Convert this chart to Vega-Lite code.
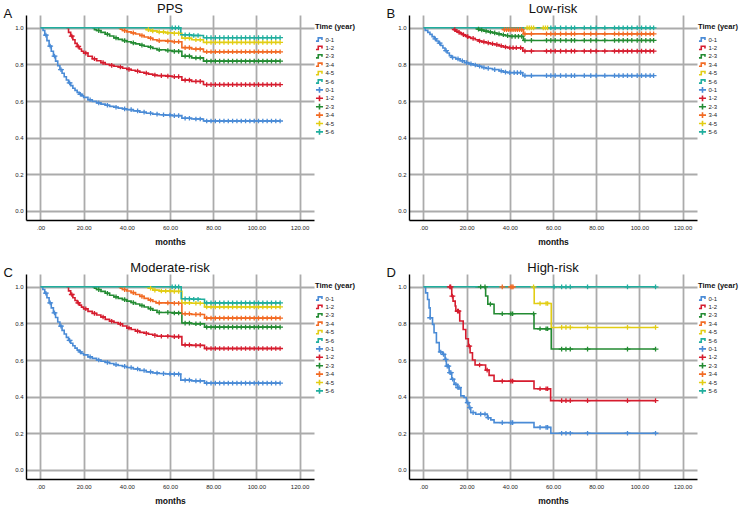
{
  "$schema": "https://vega.github.io/schema/vega-lite/v6.json",
  "padding": {"left": 3, "top": 2, "right": 0, "bottom": 0},
  "config": {
    "font": "Liberation Sans",
    "view": {"stroke": null},
    "axis": {"gridColor": "#ababab", "gridWidth": 1.8, "gridOpacity": 1, "domainColor": "#000000", "domainWidth": 1.4, "ticks": false, "labelFontSize": 6, "labelColor": "#222222"},
    "axisX": {"labelPadding": 4, "titleFontSize": 8.5, "titleFontWeight": "bold", "titleColor": "#111111", "titlePadding": 7},
    "axisY": {"labelPadding": 3},
    "title": {"fontSize": 13, "fontWeight": "normal", "color": "#111111", "anchor": "middle", "frame": "group", "baseline": "alphabetic", "offset": 1, "dy": 9},
    "legend": {"titleFontSize": 7.5, "titleFontWeight": "bold", "titleColor": "#111111", "labelFontSize": 6, "labelColor": "#222222", "symbolSize": 50, "symbolStrokeWidth": 1.3, "padding": 8, "offset": -7, "rowPadding": 0.4, "clipHeight": 8, "labelOffset": 1.5, "titlePadding": 5},
    "line": {"strokeWidth": 1.6, "interpolate": "step-after"},
    "point": {"filled": false, "opacity": 1, "size": 34, "strokeWidth": 1.3}
  },
  "datasets": {
    "pps": [
      {"k":"L 0-1","t":0,"s":1},{"k":"L 0-1","t":1.2,"s":0.985},{"k":"L 0-1","t":2,"s":0.96},{"k":"L 0-1","t":3,"s":0.93},{"k":"L 0-1","t":4,"s":0.9},{"k":"L 0-1","t":5,"s":0.872},{"k":"L 0-1","t":6,"s":0.845},{"k":"L 0-1","t":7,"s":0.818},{"k":"L 0-1","t":8,"s":0.793},{"k":"L 0-1","t":9,"s":0.772},{"k":"L 0-1","t":10,"s":0.752},{"k":"L 0-1","t":11,"s":0.733},{"k":"L 0-1","t":12,"s":0.715},{"k":"L 0-1","t":13,"s":0.699},{"k":"L 0-1","t":14,"s":0.684},{"k":"L 0-1","t":15,"s":0.67},{"k":"L 0-1","t":16,"s":0.658},{"k":"L 0-1","t":17,"s":0.647},{"k":"L 0-1","t":18,"s":0.637},{"k":"L 0-1","t":19,"s":0.628},{"k":"L 0-1","t":20,"s":0.62},{"k":"L 0-1","t":22,"s":0.607},{"k":"L 0-1","t":24,"s":0.598},{"k":"L 0-1","t":26,"s":0.59},{"k":"L 0-1","t":28,"s":0.583},{"k":"L 0-1","t":30,"s":0.577},{"k":"L 0-1","t":32,"s":0.571},{"k":"L 0-1","t":34,"s":0.566},{"k":"L 0-1","t":36,"s":0.561},{"k":"L 0-1","t":38,"s":0.557},{"k":"L 0-1","t":40,"s":0.553},{"k":"L 0-1","t":43,"s":0.546},{"k":"L 0-1","t":46,"s":0.539},{"k":"L 0-1","t":49,"s":0.533},{"k":"L 0-1","t":52,"s":0.528},{"k":"L 0-1","t":55,"s":0.525},{"k":"L 0-1","t":58,"s":0.523},{"k":"L 0-1","t":61,"s":0.52},{"k":"L 0-1","t":65.5,"s":0.506},{"k":"L 0-1","t":70,"s":0.502},{"k":"L 0-1","t":75.5,"s":0.491},{"k":"L 0-1","t":111,"s":0.491},
      {"k":"L 1-2","t":12,"s":1},{"k":"L 1-2","t":13,"s":0.975},{"k":"L 1-2","t":14,"s":0.955},{"k":"L 1-2","t":15,"s":0.935},{"k":"L 1-2","t":16,"s":0.915},{"k":"L 1-2","t":17,"s":0.898},{"k":"L 1-2","t":18,"s":0.884},{"k":"L 1-2","t":19,"s":0.872},{"k":"L 1-2","t":20,"s":0.862},{"k":"L 1-2","t":22,"s":0.845},{"k":"L 1-2","t":24,"s":0.831},{"k":"L 1-2","t":26,"s":0.82},{"k":"L 1-2","t":28,"s":0.81},{"k":"L 1-2","t":30,"s":0.801},{"k":"L 1-2","t":32,"s":0.795},{"k":"L 1-2","t":34,"s":0.79},{"k":"L 1-2","t":36,"s":0.786},{"k":"L 1-2","t":38,"s":0.779},{"k":"L 1-2","t":40,"s":0.773},{"k":"L 1-2","t":42,"s":0.768},{"k":"L 1-2","t":44,"s":0.763},{"k":"L 1-2","t":46,"s":0.757},{"k":"L 1-2","t":48,"s":0.752},{"k":"L 1-2","t":50,"s":0.747},{"k":"L 1-2","t":52,"s":0.742},{"k":"L 1-2","t":54,"s":0.739},{"k":"L 1-2","t":58,"s":0.736},{"k":"L 1-2","t":61,"s":0.733},{"k":"L 1-2","t":65.5,"s":0.714},{"k":"L 1-2","t":70,"s":0.707},{"k":"L 1-2","t":75.5,"s":0.69},{"k":"L 1-2","t":111,"s":0.69},
      {"k":"L 2-3","t":24,"s":1},{"k":"L 2-3","t":25,"s":0.99},{"k":"L 2-3","t":26,"s":0.985},{"k":"L 2-3","t":28,"s":0.975},{"k":"L 2-3","t":30,"s":0.965},{"k":"L 2-3","t":32,"s":0.955},{"k":"L 2-3","t":34,"s":0.945},{"k":"L 2-3","t":36,"s":0.937},{"k":"L 2-3","t":38,"s":0.93},{"k":"L 2-3","t":40,"s":0.924},{"k":"L 2-3","t":42,"s":0.918},{"k":"L 2-3","t":44,"s":0.912},{"k":"L 2-3","t":46,"s":0.905},{"k":"L 2-3","t":48,"s":0.899},{"k":"L 2-3","t":50,"s":0.894},{"k":"L 2-3","t":52,"s":0.887},{"k":"L 2-3","t":54,"s":0.88},{"k":"L 2-3","t":58,"s":0.876},{"k":"L 2-3","t":61,"s":0.871},{"k":"L 2-3","t":65.5,"s":0.845},{"k":"L 2-3","t":70,"s":0.836},{"k":"L 2-3","t":75.5,"s":0.818},{"k":"L 2-3","t":111,"s":0.818},
      {"k":"L 3-4","t":36,"s":1},{"k":"L 3-4","t":37,"s":0.993},{"k":"L 3-4","t":38,"s":0.985},{"k":"L 3-4","t":40,"s":0.978},{"k":"L 3-4","t":42,"s":0.972},{"k":"L 3-4","t":44,"s":0.966},{"k":"L 3-4","t":46,"s":0.958},{"k":"L 3-4","t":48,"s":0.95},{"k":"L 3-4","t":50,"s":0.943},{"k":"L 3-4","t":52,"s":0.935},{"k":"L 3-4","t":54,"s":0.93},{"k":"L 3-4","t":58,"s":0.927},{"k":"L 3-4","t":61,"s":0.924},{"k":"L 3-4","t":65.5,"s":0.892},{"k":"L 3-4","t":70,"s":0.884},{"k":"L 3-4","t":75.5,"s":0.869},{"k":"L 3-4","t":111,"s":0.869},
      {"k":"L 4-5","t":48,"s":1},{"k":"L 4-5","t":49,"s":0.99},{"k":"L 4-5","t":51,"s":0.983},{"k":"L 4-5","t":54,"s":0.977},{"k":"L 4-5","t":58,"s":0.973},{"k":"L 4-5","t":61,"s":0.97},{"k":"L 4-5","t":65.5,"s":0.943},{"k":"L 4-5","t":70,"s":0.935},{"k":"L 4-5","t":75.5,"s":0.92},{"k":"L 4-5","t":111,"s":0.92},
      {"k":"L 5-6","t":0,"s":1},{"k":"L 5-6","t":65,"s":0.962},{"k":"L 5-6","t":70,"s":0.958},{"k":"L 5-6","t":75.5,"s":0.946},{"k":"L 5-6","t":111,"s":0.946},
      {"k":"C 0-1","t":2.5,"s":0.96},{"k":"C 0-1","t":4.5,"s":0.9},{"k":"C 0-1","t":6.5,"s":0.845},{"k":"C 0-1","t":9.5,"s":0.772},{"k":"C 0-1","t":13.5,"s":0.699},{"k":"C 0-1","t":18.5,"s":0.637},{"k":"C 0-1","t":23,"s":0.607},{"k":"C 0-1","t":27,"s":0.59},{"k":"C 0-1","t":31,"s":0.577},{"k":"C 0-1","t":35,"s":0.566},{"k":"C 0-1","t":39,"s":0.557},{"k":"C 0-1","t":42,"s":0.553},{"k":"C 0-1","t":45,"s":0.546},{"k":"C 0-1","t":48,"s":0.539},{"k":"C 0-1","t":51,"s":0.533},{"k":"C 0-1","t":54,"s":0.528},{"k":"C 0-1","t":57,"s":0.525},{"k":"C 0-1","t":60,"s":0.523},{"k":"C 0-1","t":62,"s":0.52},{"k":"C 0-1","t":64,"s":0.52},{"k":"C 0-1","t":67,"s":0.506},{"k":"C 0-1","t":69,"s":0.506},{"k":"C 0-1","t":72,"s":0.502},{"k":"C 0-1","t":74,"s":0.502},{"k":"C 0-1","t":77,"s":0.491},{"k":"C 0-1","t":79,"s":0.491},{"k":"C 0-1","t":81,"s":0.491},{"k":"C 0-1","t":83,"s":0.491},{"k":"C 0-1","t":85,"s":0.491},{"k":"C 0-1","t":87,"s":0.491},{"k":"C 0-1","t":89,"s":0.491},{"k":"C 0-1","t":91,"s":0.491},{"k":"C 0-1","t":93,"s":0.491},{"k":"C 0-1","t":95,"s":0.491},{"k":"C 0-1","t":97,"s":0.491},{"k":"C 0-1","t":99,"s":0.491},{"k":"C 0-1","t":101,"s":0.491},{"k":"C 0-1","t":103,"s":0.491},{"k":"C 0-1","t":105,"s":0.491},{"k":"C 0-1","t":107,"s":0.491},{"k":"C 0-1","t":109,"s":0.491},{"k":"C 0-1","t":111,"s":0.491},
      {"k":"C 1-2","t":14.5,"s":0.955},{"k":"C 1-2","t":17.5,"s":0.898},{"k":"C 1-2","t":21,"s":0.862},{"k":"C 1-2","t":25,"s":0.831},{"k":"C 1-2","t":29,"s":0.81},{"k":"C 1-2","t":33,"s":0.795},{"k":"C 1-2","t":37,"s":0.786},{"k":"C 1-2","t":41,"s":0.773},{"k":"C 1-2","t":45,"s":0.763},{"k":"C 1-2","t":49,"s":0.752},{"k":"C 1-2","t":53,"s":0.742},{"k":"C 1-2","t":56,"s":0.739},{"k":"C 1-2","t":59,"s":0.736},{"k":"C 1-2","t":62,"s":0.733},{"k":"C 1-2","t":64,"s":0.733},{"k":"C 1-2","t":67,"s":0.714},{"k":"C 1-2","t":69,"s":0.714},{"k":"C 1-2","t":72,"s":0.707},{"k":"C 1-2","t":74,"s":0.707},{"k":"C 1-2","t":77,"s":0.69},{"k":"C 1-2","t":79,"s":0.69},{"k":"C 1-2","t":81,"s":0.69},{"k":"C 1-2","t":83,"s":0.69},{"k":"C 1-2","t":85,"s":0.69},{"k":"C 1-2","t":87,"s":0.69},{"k":"C 1-2","t":89,"s":0.69},{"k":"C 1-2","t":91,"s":0.69},{"k":"C 1-2","t":93,"s":0.69},{"k":"C 1-2","t":95,"s":0.69},{"k":"C 1-2","t":97,"s":0.69},{"k":"C 1-2","t":99,"s":0.69},{"k":"C 1-2","t":101,"s":0.69},{"k":"C 1-2","t":103,"s":0.69},{"k":"C 1-2","t":105,"s":0.69},{"k":"C 1-2","t":107,"s":0.69},{"k":"C 1-2","t":109,"s":0.69},{"k":"C 1-2","t":111,"s":0.69},
      {"k":"C 2-3","t":27,"s":0.985},{"k":"C 2-3","t":31,"s":0.965},{"k":"C 2-3","t":35,"s":0.945},{"k":"C 2-3","t":39,"s":0.93},{"k":"C 2-3","t":43,"s":0.918},{"k":"C 2-3","t":47,"s":0.905},{"k":"C 2-3","t":51,"s":0.894},{"k":"C 2-3","t":55,"s":0.88},{"k":"C 2-3","t":59,"s":0.876},{"k":"C 2-3","t":62,"s":0.871},{"k":"C 2-3","t":64,"s":0.871},{"k":"C 2-3","t":67,"s":0.845},{"k":"C 2-3","t":69,"s":0.845},{"k":"C 2-3","t":72,"s":0.836},{"k":"C 2-3","t":74,"s":0.836},{"k":"C 2-3","t":77,"s":0.818},{"k":"C 2-3","t":79,"s":0.818},{"k":"C 2-3","t":81,"s":0.818},{"k":"C 2-3","t":83,"s":0.818},{"k":"C 2-3","t":85,"s":0.818},{"k":"C 2-3","t":87,"s":0.818},{"k":"C 2-3","t":89,"s":0.818},{"k":"C 2-3","t":91,"s":0.818},{"k":"C 2-3","t":93,"s":0.818},{"k":"C 2-3","t":95,"s":0.818},{"k":"C 2-3","t":97,"s":0.818},{"k":"C 2-3","t":99,"s":0.818},{"k":"C 2-3","t":101,"s":0.818},{"k":"C 2-3","t":103,"s":0.818},{"k":"C 2-3","t":105,"s":0.818},{"k":"C 2-3","t":107,"s":0.818},{"k":"C 2-3","t":109,"s":0.818},{"k":"C 2-3","t":111,"s":0.818},
      {"k":"C 3-4","t":39,"s":0.985},{"k":"C 3-4","t":43,"s":0.972},{"k":"C 3-4","t":47,"s":0.958},{"k":"C 3-4","t":51,"s":0.943},{"k":"C 3-4","t":55,"s":0.93},{"k":"C 3-4","t":59,"s":0.927},{"k":"C 3-4","t":62,"s":0.924},{"k":"C 3-4","t":64,"s":0.924},{"k":"C 3-4","t":67,"s":0.892},{"k":"C 3-4","t":69,"s":0.892},{"k":"C 3-4","t":72,"s":0.884},{"k":"C 3-4","t":74,"s":0.884},{"k":"C 3-4","t":77,"s":0.869},{"k":"C 3-4","t":79,"s":0.869},{"k":"C 3-4","t":81,"s":0.869},{"k":"C 3-4","t":83,"s":0.869},{"k":"C 3-4","t":85,"s":0.869},{"k":"C 3-4","t":87,"s":0.869},{"k":"C 3-4","t":89,"s":0.869},{"k":"C 3-4","t":91,"s":0.869},{"k":"C 3-4","t":93,"s":0.869},{"k":"C 3-4","t":95,"s":0.869},{"k":"C 3-4","t":97,"s":0.869},{"k":"C 3-4","t":99,"s":0.869},{"k":"C 3-4","t":101,"s":0.869},{"k":"C 3-4","t":103,"s":0.869},{"k":"C 3-4","t":105,"s":0.869},{"k":"C 3-4","t":107,"s":0.869},{"k":"C 3-4","t":109,"s":0.869},{"k":"C 3-4","t":111,"s":0.869},
      {"k":"C 4-5","t":50,"s":0.99},{"k":"C 4-5","t":52,"s":0.983},{"k":"C 4-5","t":55,"s":0.977},{"k":"C 4-5","t":57,"s":0.977},{"k":"C 4-5","t":59,"s":0.973},{"k":"C 4-5","t":62,"s":0.97},{"k":"C 4-5","t":64,"s":0.97},{"k":"C 4-5","t":67,"s":0.943},{"k":"C 4-5","t":69,"s":0.943},{"k":"C 4-5","t":72,"s":0.935},{"k":"C 4-5","t":74,"s":0.935},{"k":"C 4-5","t":77,"s":0.92},{"k":"C 4-5","t":79,"s":0.92},{"k":"C 4-5","t":81,"s":0.92},{"k":"C 4-5","t":83,"s":0.92},{"k":"C 4-5","t":85,"s":0.92},{"k":"C 4-5","t":87,"s":0.92},{"k":"C 4-5","t":89,"s":0.92},{"k":"C 4-5","t":91,"s":0.92},{"k":"C 4-5","t":93,"s":0.92},{"k":"C 4-5","t":95,"s":0.92},{"k":"C 4-5","t":97,"s":0.92},{"k":"C 4-5","t":99,"s":0.92},{"k":"C 4-5","t":101,"s":0.92},{"k":"C 4-5","t":103,"s":0.92},{"k":"C 4-5","t":105,"s":0.92},{"k":"C 4-5","t":107,"s":0.92},{"k":"C 4-5","t":109,"s":0.92},{"k":"C 4-5","t":111,"s":0.92},
      {"k":"C 5-6","t":61,"s":1},{"k":"C 5-6","t":62.5,"s":1},{"k":"C 5-6","t":64,"s":1},{"k":"C 5-6","t":67,"s":0.962},{"k":"C 5-6","t":69,"s":0.962},{"k":"C 5-6","t":71,"s":0.958},{"k":"C 5-6","t":73,"s":0.958},{"k":"C 5-6","t":77,"s":0.946},{"k":"C 5-6","t":79,"s":0.946},{"k":"C 5-6","t":81,"s":0.946},{"k":"C 5-6","t":83,"s":0.946},{"k":"C 5-6","t":85,"s":0.946},{"k":"C 5-6","t":87,"s":0.946},{"k":"C 5-6","t":89,"s":0.946},{"k":"C 5-6","t":91,"s":0.946},{"k":"C 5-6","t":93,"s":0.946},{"k":"C 5-6","t":95,"s":0.946},{"k":"C 5-6","t":97,"s":0.946},{"k":"C 5-6","t":99,"s":0.946},{"k":"C 5-6","t":101,"s":0.946},{"k":"C 5-6","t":103,"s":0.946},{"k":"C 5-6","t":105,"s":0.946},{"k":"C 5-6","t":107,"s":0.946},{"k":"C 5-6","t":109,"s":0.946},{"k":"C 5-6","t":111,"s":0.946}
    ],
    "low": [
      {"k":"L 0-1","t":0,"s":1},{"k":"L 0-1","t":0.8,"s":0.986},{"k":"L 0-1","t":2,"s":0.975},{"k":"L 0-1","t":3,"s":0.964},{"k":"L 0-1","t":4,"s":0.952},{"k":"L 0-1","t":5,"s":0.94},{"k":"L 0-1","t":6,"s":0.928},{"k":"L 0-1","t":7,"s":0.916},{"k":"L 0-1","t":8,"s":0.903},{"k":"L 0-1","t":9,"s":0.89},{"k":"L 0-1","t":10,"s":0.875},{"k":"L 0-1","t":11,"s":0.862},{"k":"L 0-1","t":12,"s":0.848},{"k":"L 0-1","t":13,"s":0.838},{"k":"L 0-1","t":15,"s":0.83},{"k":"L 0-1","t":17,"s":0.82},{"k":"L 0-1","t":19,"s":0.81},{"k":"L 0-1","t":21,"s":0.803},{"k":"L 0-1","t":23,"s":0.797},{"k":"L 0-1","t":25,"s":0.79},{"k":"L 0-1","t":27,"s":0.783},{"k":"L 0-1","t":29,"s":0.778},{"k":"L 0-1","t":32,"s":0.772},{"k":"L 0-1","t":35,"s":0.765},{"k":"L 0-1","t":37,"s":0.758},{"k":"L 0-1","t":39,"s":0.755},{"k":"L 0-1","t":46,"s":0.739},{"k":"L 0-1","t":106.6,"s":0.739},
      {"k":"L 1-2","t":12.8,"s":1},{"k":"L 1-2","t":14,"s":0.99},{"k":"L 1-2","t":15,"s":0.982},{"k":"L 1-2","t":16,"s":0.975},{"k":"L 1-2","t":17,"s":0.969},{"k":"L 1-2","t":18,"s":0.963},{"k":"L 1-2","t":19,"s":0.958},{"k":"L 1-2","t":20,"s":0.952},{"k":"L 1-2","t":21,"s":0.947},{"k":"L 1-2","t":22,"s":0.942},{"k":"L 1-2","t":24,"s":0.935},{"k":"L 1-2","t":25.5,"s":0.928},{"k":"L 1-2","t":27,"s":0.923},{"k":"L 1-2","t":29,"s":0.918},{"k":"L 1-2","t":31,"s":0.913},{"k":"L 1-2","t":33,"s":0.908},{"k":"L 1-2","t":35,"s":0.902},{"k":"L 1-2","t":37,"s":0.895},{"k":"L 1-2","t":39,"s":0.891},{"k":"L 1-2","t":46,"s":0.873},{"k":"L 1-2","t":106.6,"s":0.873},
      {"k":"L 2-3","t":24,"s":1},{"k":"L 2-3","t":25,"s":0.993},{"k":"L 2-3","t":26,"s":0.988},{"k":"L 2-3","t":28,"s":0.982},{"k":"L 2-3","t":30,"s":0.977},{"k":"L 2-3","t":32,"s":0.972},{"k":"L 2-3","t":34,"s":0.967},{"k":"L 2-3","t":36,"s":0.962},{"k":"L 2-3","t":38,"s":0.957},{"k":"L 2-3","t":40,"s":0.953},{"k":"L 2-3","t":46.3,"s":0.931},{"k":"L 2-3","t":106.6,"s":0.931},
      {"k":"L 3-4","t":36,"s":1},{"k":"L 3-4","t":37,"s":0.99},{"k":"L 3-4","t":46.3,"s":0.967},{"k":"L 3-4","t":106.6,"s":0.967},
      {"k":"L 4-5","t":48,"s":1},{"k":"L 4-5","t":58,"s":1},
      {"k":"L 5-6","t":0,"s":1},{"k":"L 5-6","t":106.6,"s":1},
      {"k":"C 0-1","t":5.5,"s":0.94},{"k":"C 0-1","t":7.5,"s":0.916},{"k":"C 0-1","t":10.5,"s":0.875},{"k":"C 0-1","t":13.5,"s":0.838},{"k":"C 0-1","t":16,"s":0.83},{"k":"C 0-1","t":18,"s":0.82},{"k":"C 0-1","t":20,"s":0.81},{"k":"C 0-1","t":22,"s":0.803},{"k":"C 0-1","t":24,"s":0.797},{"k":"C 0-1","t":26,"s":0.79},{"k":"C 0-1","t":28,"s":0.783},{"k":"C 0-1","t":30,"s":0.778},{"k":"C 0-1","t":33,"s":0.772},{"k":"C 0-1","t":36,"s":0.765},{"k":"C 0-1","t":38,"s":0.758},{"k":"C 0-1","t":40,"s":0.755},{"k":"C 0-1","t":42,"s":0.755},{"k":"C 0-1","t":43.5,"s":0.755},{"k":"C 0-1","t":45,"s":0.755},{"k":"C 0-1","t":47,"s":0.739},{"k":"C 0-1","t":50,"s":0.739},{"k":"C 0-1","t":57,"s":0.739},{"k":"C 0-1","t":59,"s":0.739},{"k":"C 0-1","t":61,"s":0.739},{"k":"C 0-1","t":63.5,"s":0.739},{"k":"C 0-1","t":66,"s":0.739},{"k":"C 0-1","t":68.5,"s":0.739},{"k":"C 0-1","t":70,"s":0.739},{"k":"C 0-1","t":74.5,"s":0.739},{"k":"C 0-1","t":77.5,"s":0.739},{"k":"C 0-1","t":80,"s":0.739},{"k":"C 0-1","t":84,"s":0.739},{"k":"C 0-1","t":88.5,"s":0.739},{"k":"C 0-1","t":90.5,"s":0.739},{"k":"C 0-1","t":92.5,"s":0.739},{"k":"C 0-1","t":94.5,"s":0.739},{"k":"C 0-1","t":96.5,"s":0.739},{"k":"C 0-1","t":99,"s":0.739},{"k":"C 0-1","t":101,"s":0.739},{"k":"C 0-1","t":103,"s":0.739},{"k":"C 0-1","t":105,"s":0.739},{"k":"C 0-1","t":106.6,"s":0.739},
      {"k":"C 1-2","t":14.5,"s":0.99},{"k":"C 1-2","t":16.5,"s":0.975},{"k":"C 1-2","t":18.5,"s":0.963},{"k":"C 1-2","t":20.5,"s":0.952},{"k":"C 1-2","t":23,"s":0.942},{"k":"C 1-2","t":26,"s":0.928},{"k":"C 1-2","t":28,"s":0.923},{"k":"C 1-2","t":30,"s":0.918},{"k":"C 1-2","t":32,"s":0.913},{"k":"C 1-2","t":34,"s":0.908},{"k":"C 1-2","t":36,"s":0.902},{"k":"C 1-2","t":38,"s":0.895},{"k":"C 1-2","t":40,"s":0.891},{"k":"C 1-2","t":41.5,"s":0.891},{"k":"C 1-2","t":43,"s":0.891},{"k":"C 1-2","t":45,"s":0.891},{"k":"C 1-2","t":47,"s":0.873},{"k":"C 1-2","t":50,"s":0.873},{"k":"C 1-2","t":57,"s":0.873},{"k":"C 1-2","t":59,"s":0.873},{"k":"C 1-2","t":61,"s":0.873},{"k":"C 1-2","t":63.5,"s":0.873},{"k":"C 1-2","t":66,"s":0.873},{"k":"C 1-2","t":68.5,"s":0.873},{"k":"C 1-2","t":70,"s":0.873},{"k":"C 1-2","t":74.5,"s":0.873},{"k":"C 1-2","t":77.5,"s":0.873},{"k":"C 1-2","t":80,"s":0.873},{"k":"C 1-2","t":84,"s":0.873},{"k":"C 1-2","t":88.5,"s":0.873},{"k":"C 1-2","t":90.5,"s":0.873},{"k":"C 1-2","t":92.5,"s":0.873},{"k":"C 1-2","t":94.5,"s":0.873},{"k":"C 1-2","t":96.5,"s":0.873},{"k":"C 1-2","t":99,"s":0.873},{"k":"C 1-2","t":101,"s":0.873},{"k":"C 1-2","t":103,"s":0.873},{"k":"C 1-2","t":105,"s":0.873},{"k":"C 1-2","t":106.6,"s":0.873},
      {"k":"C 2-3","t":25.5,"s":0.993},{"k":"C 2-3","t":27,"s":0.988},{"k":"C 2-3","t":29,"s":0.982},{"k":"C 2-3","t":31,"s":0.977},{"k":"C 2-3","t":33,"s":0.972},{"k":"C 2-3","t":35,"s":0.967},{"k":"C 2-3","t":37,"s":0.962},{"k":"C 2-3","t":39,"s":0.957},{"k":"C 2-3","t":41,"s":0.953},{"k":"C 2-3","t":42.5,"s":0.953},{"k":"C 2-3","t":44,"s":0.953},{"k":"C 2-3","t":45.5,"s":0.953},{"k":"C 2-3","t":47,"s":0.931},{"k":"C 2-3","t":50,"s":0.931},{"k":"C 2-3","t":57,"s":0.931},{"k":"C 2-3","t":59,"s":0.931},{"k":"C 2-3","t":61,"s":0.931},{"k":"C 2-3","t":63.5,"s":0.931},{"k":"C 2-3","t":66,"s":0.931},{"k":"C 2-3","t":68.5,"s":0.931},{"k":"C 2-3","t":70,"s":0.931},{"k":"C 2-3","t":74.5,"s":0.931},{"k":"C 2-3","t":77.5,"s":0.931},{"k":"C 2-3","t":80,"s":0.931},{"k":"C 2-3","t":84,"s":0.931},{"k":"C 2-3","t":88.5,"s":0.931},{"k":"C 2-3","t":90.5,"s":0.931},{"k":"C 2-3","t":92.5,"s":0.931},{"k":"C 2-3","t":94.5,"s":0.931},{"k":"C 2-3","t":96.5,"s":0.931},{"k":"C 2-3","t":99,"s":0.931},{"k":"C 2-3","t":101,"s":0.931},{"k":"C 2-3","t":103,"s":0.931},{"k":"C 2-3","t":105,"s":0.931},{"k":"C 2-3","t":106.6,"s":0.931},
      {"k":"C 3-4","t":37.5,"s":0.99},{"k":"C 3-4","t":38.5,"s":0.99},{"k":"C 3-4","t":39.5,"s":0.99},{"k":"C 3-4","t":40.5,"s":0.99},{"k":"C 3-4","t":41.5,"s":0.99},{"k":"C 3-4","t":42.5,"s":0.99},{"k":"C 3-4","t":43.5,"s":0.99},{"k":"C 3-4","t":44.5,"s":0.99},{"k":"C 3-4","t":45.5,"s":0.99},{"k":"C 3-4","t":47,"s":0.967},{"k":"C 3-4","t":50,"s":0.967},{"k":"C 3-4","t":57,"s":0.967},{"k":"C 3-4","t":59,"s":0.967},{"k":"C 3-4","t":61,"s":0.967},{"k":"C 3-4","t":63.5,"s":0.967},{"k":"C 3-4","t":66,"s":0.967},{"k":"C 3-4","t":68.5,"s":0.967},{"k":"C 3-4","t":70,"s":0.967},{"k":"C 3-4","t":74.5,"s":0.967},{"k":"C 3-4","t":77.5,"s":0.967},{"k":"C 3-4","t":80,"s":0.967},{"k":"C 3-4","t":84,"s":0.967},{"k":"C 3-4","t":88.5,"s":0.967},{"k":"C 3-4","t":90.5,"s":0.967},{"k":"C 3-4","t":92.5,"s":0.967},{"k":"C 3-4","t":94.5,"s":0.967},{"k":"C 3-4","t":96.5,"s":0.967},{"k":"C 3-4","t":99,"s":0.967},{"k":"C 3-4","t":101,"s":0.967},{"k":"C 3-4","t":103,"s":0.967},{"k":"C 3-4","t":105,"s":0.967},{"k":"C 3-4","t":106.6,"s":0.967},
      {"k":"C 4-5","t":48,"s":1},{"k":"C 4-5","t":49,"s":1},{"k":"C 4-5","t":50,"s":1},{"k":"C 4-5","t":51,"s":1},{"k":"C 4-5","t":55.5,"s":1},{"k":"C 4-5","t":56.5,"s":1},{"k":"C 4-5","t":57.5,"s":1},
      {"k":"C 5-6","t":59,"s":1},{"k":"C 5-6","t":61,"s":1},{"k":"C 5-6","t":63.5,"s":1},{"k":"C 5-6","t":66,"s":1},{"k":"C 5-6","t":68.5,"s":1},{"k":"C 5-6","t":70,"s":1},{"k":"C 5-6","t":74.5,"s":1},{"k":"C 5-6","t":77.5,"s":1},{"k":"C 5-6","t":80,"s":1},{"k":"C 5-6","t":84,"s":1},{"k":"C 5-6","t":88.5,"s":1},{"k":"C 5-6","t":90.5,"s":1},{"k":"C 5-6","t":92.5,"s":1},{"k":"C 5-6","t":94.5,"s":1},{"k":"C 5-6","t":96.5,"s":1},{"k":"C 5-6","t":99,"s":1},{"k":"C 5-6","t":101,"s":1},{"k":"C 5-6","t":103,"s":1},{"k":"C 5-6","t":105,"s":1},{"k":"C 5-6","t":106.6,"s":1}
    ],
    "moderate": [
      {"k":"L 0-1","t":0,"s":1},{"k":"L 0-1","t":1.1,"s":0.985},{"k":"L 0-1","t":2,"s":0.965},{"k":"L 0-1","t":3,"s":0.94},{"k":"L 0-1","t":4,"s":0.912},{"k":"L 0-1","t":5,"s":0.885},{"k":"L 0-1","t":6,"s":0.858},{"k":"L 0-1","t":7,"s":0.832},{"k":"L 0-1","t":8,"s":0.808},{"k":"L 0-1","t":9,"s":0.785},{"k":"L 0-1","t":10,"s":0.762},{"k":"L 0-1","t":11,"s":0.742},{"k":"L 0-1","t":12,"s":0.724},{"k":"L 0-1","t":13,"s":0.707},{"k":"L 0-1","t":14,"s":0.692},{"k":"L 0-1","t":15,"s":0.678},{"k":"L 0-1","t":16,"s":0.665},{"k":"L 0-1","t":17,"s":0.654},{"k":"L 0-1","t":18,"s":0.644},{"k":"L 0-1","t":19,"s":0.636},{"k":"L 0-1","t":20,"s":0.628},{"k":"L 0-1","t":22,"s":0.617},{"k":"L 0-1","t":24,"s":0.609},{"k":"L 0-1","t":26,"s":0.6},{"k":"L 0-1","t":28,"s":0.593},{"k":"L 0-1","t":30,"s":0.587},{"k":"L 0-1","t":32,"s":0.581},{"k":"L 0-1","t":34,"s":0.575},{"k":"L 0-1","t":36,"s":0.57},{"k":"L 0-1","t":38,"s":0.565},{"k":"L 0-1","t":40,"s":0.559},{"k":"L 0-1","t":43,"s":0.551},{"k":"L 0-1","t":46,"s":0.543},{"k":"L 0-1","t":49,"s":0.535},{"k":"L 0-1","t":52,"s":0.529},{"k":"L 0-1","t":55,"s":0.526},{"k":"L 0-1","t":58,"s":0.524},{"k":"L 0-1","t":61,"s":0.523},{"k":"L 0-1","t":65,"s":0.49},{"k":"L 0-1","t":70,"s":0.486},{"k":"L 0-1","t":76,"s":0.474},{"k":"L 0-1","t":111,"s":0.474},
      {"k":"L 1-2","t":12,"s":1},{"k":"L 1-2","t":13,"s":0.978},{"k":"L 1-2","t":14,"s":0.958},{"k":"L 1-2","t":15,"s":0.94},{"k":"L 1-2","t":16,"s":0.925},{"k":"L 1-2","t":17,"s":0.912},{"k":"L 1-2","t":18,"s":0.9},{"k":"L 1-2","t":19,"s":0.889},{"k":"L 1-2","t":20,"s":0.88},{"k":"L 1-2","t":22,"s":0.866},{"k":"L 1-2","t":24,"s":0.855},{"k":"L 1-2","t":26,"s":0.846},{"k":"L 1-2","t":28,"s":0.835},{"k":"L 1-2","t":30,"s":0.822},{"k":"L 1-2","t":32,"s":0.812},{"k":"L 1-2","t":34,"s":0.805},{"k":"L 1-2","t":36,"s":0.797},{"k":"L 1-2","t":38,"s":0.786},{"k":"L 1-2","t":40,"s":0.775},{"k":"L 1-2","t":42,"s":0.767},{"k":"L 1-2","t":44,"s":0.758},{"k":"L 1-2","t":46,"s":0.751},{"k":"L 1-2","t":48,"s":0.746},{"k":"L 1-2","t":50,"s":0.741},{"k":"L 1-2","t":52,"s":0.735},{"k":"L 1-2","t":54,"s":0.73},{"k":"L 1-2","t":61,"s":0.728},{"k":"L 1-2","t":65.5,"s":0.683},{"k":"L 1-2","t":70,"s":0.68},{"k":"L 1-2","t":76,"s":0.663},{"k":"L 1-2","t":111,"s":0.663},
      {"k":"L 2-3","t":24,"s":1},{"k":"L 2-3","t":25,"s":0.993},{"k":"L 2-3","t":26,"s":0.985},{"k":"L 2-3","t":28,"s":0.975},{"k":"L 2-3","t":30,"s":0.965},{"k":"L 2-3","t":32,"s":0.954},{"k":"L 2-3","t":34,"s":0.945},{"k":"L 2-3","t":36,"s":0.937},{"k":"L 2-3","t":38,"s":0.93},{"k":"L 2-3","t":40,"s":0.922},{"k":"L 2-3","t":42,"s":0.914},{"k":"L 2-3","t":44,"s":0.906},{"k":"L 2-3","t":46,"s":0.898},{"k":"L 2-3","t":48,"s":0.89},{"k":"L 2-3","t":50,"s":0.881},{"k":"L 2-3","t":52,"s":0.872},{"k":"L 2-3","t":54,"s":0.86},{"k":"L 2-3","t":61,"s":0.857},{"k":"L 2-3","t":65.5,"s":0.802},{"k":"L 2-3","t":70,"s":0.798},{"k":"L 2-3","t":76,"s":0.78},{"k":"L 2-3","t":111,"s":0.78},
      {"k":"L 3-4","t":36,"s":1},{"k":"L 3-4","t":37,"s":0.993},{"k":"L 3-4","t":38,"s":0.985},{"k":"L 3-4","t":40,"s":0.977},{"k":"L 3-4","t":42,"s":0.968},{"k":"L 3-4","t":44,"s":0.958},{"k":"L 3-4","t":46,"s":0.948},{"k":"L 3-4","t":48,"s":0.937},{"k":"L 3-4","t":50,"s":0.928},{"k":"L 3-4","t":52,"s":0.92},{"k":"L 3-4","t":53.5,"s":0.912},{"k":"L 3-4","t":61,"s":0.91},{"k":"L 3-4","t":65.5,"s":0.853},{"k":"L 3-4","t":70,"s":0.849},{"k":"L 3-4","t":76,"s":0.829},{"k":"L 3-4","t":111,"s":0.829},
      {"k":"L 4-5","t":48,"s":1},{"k":"L 4-5","t":50,"s":0.992},{"k":"L 4-5","t":52,"s":0.982},{"k":"L 4-5","t":55,"s":0.977},{"k":"L 4-5","t":61,"s":0.975},{"k":"L 4-5","t":65.5,"s":0.913},{"k":"L 4-5","t":70,"s":0.91},{"k":"L 4-5","t":76,"s":0.89},{"k":"L 4-5","t":111,"s":0.89},
      {"k":"L 5-6","t":0,"s":1},{"k":"L 5-6","t":65.2,"s":0.935},{"k":"L 5-6","t":70,"s":0.932},{"k":"L 5-6","t":76,"s":0.912},{"k":"L 5-6","t":111,"s":0.912},
      {"k":"C 0-1","t":2.5,"s":0.965},{"k":"C 0-1","t":4.5,"s":0.912},{"k":"C 0-1","t":6.5,"s":0.858},{"k":"C 0-1","t":9.5,"s":0.785},{"k":"C 0-1","t":13.5,"s":0.707},{"k":"C 0-1","t":18.5,"s":0.644},{"k":"C 0-1","t":23,"s":0.617},{"k":"C 0-1","t":27,"s":0.6},{"k":"C 0-1","t":31,"s":0.587},{"k":"C 0-1","t":35,"s":0.575},{"k":"C 0-1","t":39,"s":0.565},{"k":"C 0-1","t":42,"s":0.559},{"k":"C 0-1","t":45,"s":0.551},{"k":"C 0-1","t":48,"s":0.543},{"k":"C 0-1","t":51,"s":0.535},{"k":"C 0-1","t":54,"s":0.529},{"k":"C 0-1","t":57,"s":0.526},{"k":"C 0-1","t":60,"s":0.524},{"k":"C 0-1","t":62,"s":0.523},{"k":"C 0-1","t":64,"s":0.523},{"k":"C 0-1","t":67,"s":0.49},{"k":"C 0-1","t":69,"s":0.49},{"k":"C 0-1","t":72,"s":0.486},{"k":"C 0-1","t":74,"s":0.486},{"k":"C 0-1","t":77,"s":0.474},{"k":"C 0-1","t":79,"s":0.474},{"k":"C 0-1","t":81,"s":0.474},{"k":"C 0-1","t":83,"s":0.474},{"k":"C 0-1","t":85,"s":0.474},{"k":"C 0-1","t":87,"s":0.474},{"k":"C 0-1","t":89,"s":0.474},{"k":"C 0-1","t":91,"s":0.474},{"k":"C 0-1","t":93,"s":0.474},{"k":"C 0-1","t":95,"s":0.474},{"k":"C 0-1","t":97,"s":0.474},{"k":"C 0-1","t":99,"s":0.474},{"k":"C 0-1","t":101,"s":0.474},{"k":"C 0-1","t":103,"s":0.474},{"k":"C 0-1","t":105,"s":0.474},{"k":"C 0-1","t":107,"s":0.474},{"k":"C 0-1","t":109,"s":0.474},{"k":"C 0-1","t":111,"s":0.474},
      {"k":"C 1-2","t":14.5,"s":0.958},{"k":"C 1-2","t":17.5,"s":0.912},{"k":"C 1-2","t":21,"s":0.88},{"k":"C 1-2","t":25,"s":0.855},{"k":"C 1-2","t":29,"s":0.835},{"k":"C 1-2","t":33,"s":0.812},{"k":"C 1-2","t":37,"s":0.797},{"k":"C 1-2","t":41,"s":0.775},{"k":"C 1-2","t":45,"s":0.758},{"k":"C 1-2","t":49,"s":0.746},{"k":"C 1-2","t":53,"s":0.735},{"k":"C 1-2","t":56,"s":0.73},{"k":"C 1-2","t":59,"s":0.73},{"k":"C 1-2","t":62,"s":0.728},{"k":"C 1-2","t":64,"s":0.728},{"k":"C 1-2","t":67,"s":0.683},{"k":"C 1-2","t":69,"s":0.683},{"k":"C 1-2","t":72,"s":0.68},{"k":"C 1-2","t":74,"s":0.68},{"k":"C 1-2","t":77,"s":0.663},{"k":"C 1-2","t":79,"s":0.663},{"k":"C 1-2","t":81,"s":0.663},{"k":"C 1-2","t":83,"s":0.663},{"k":"C 1-2","t":85,"s":0.663},{"k":"C 1-2","t":87,"s":0.663},{"k":"C 1-2","t":89,"s":0.663},{"k":"C 1-2","t":91,"s":0.663},{"k":"C 1-2","t":93,"s":0.663},{"k":"C 1-2","t":95,"s":0.663},{"k":"C 1-2","t":97,"s":0.663},{"k":"C 1-2","t":99,"s":0.663},{"k":"C 1-2","t":101,"s":0.663},{"k":"C 1-2","t":103,"s":0.663},{"k":"C 1-2","t":105,"s":0.663},{"k":"C 1-2","t":107,"s":0.663},{"k":"C 1-2","t":109,"s":0.663},{"k":"C 1-2","t":111,"s":0.663},
      {"k":"C 2-3","t":27,"s":0.985},{"k":"C 2-3","t":31,"s":0.965},{"k":"C 2-3","t":35,"s":0.945},{"k":"C 2-3","t":39,"s":0.93},{"k":"C 2-3","t":43,"s":0.914},{"k":"C 2-3","t":47,"s":0.898},{"k":"C 2-3","t":51,"s":0.881},{"k":"C 2-3","t":55,"s":0.86},{"k":"C 2-3","t":59,"s":0.86},{"k":"C 2-3","t":62,"s":0.857},{"k":"C 2-3","t":64,"s":0.857},{"k":"C 2-3","t":67,"s":0.802},{"k":"C 2-3","t":69,"s":0.802},{"k":"C 2-3","t":72,"s":0.798},{"k":"C 2-3","t":74,"s":0.798},{"k":"C 2-3","t":77,"s":0.78},{"k":"C 2-3","t":79,"s":0.78},{"k":"C 2-3","t":81,"s":0.78},{"k":"C 2-3","t":83,"s":0.78},{"k":"C 2-3","t":85,"s":0.78},{"k":"C 2-3","t":87,"s":0.78},{"k":"C 2-3","t":89,"s":0.78},{"k":"C 2-3","t":91,"s":0.78},{"k":"C 2-3","t":93,"s":0.78},{"k":"C 2-3","t":95,"s":0.78},{"k":"C 2-3","t":97,"s":0.78},{"k":"C 2-3","t":99,"s":0.78},{"k":"C 2-3","t":101,"s":0.78},{"k":"C 2-3","t":103,"s":0.78},{"k":"C 2-3","t":105,"s":0.78},{"k":"C 2-3","t":107,"s":0.78},{"k":"C 2-3","t":109,"s":0.78},{"k":"C 2-3","t":111,"s":0.78},
      {"k":"C 3-4","t":39,"s":0.985},{"k":"C 3-4","t":43,"s":0.968},{"k":"C 3-4","t":47,"s":0.948},{"k":"C 3-4","t":51,"s":0.928},{"k":"C 3-4","t":55,"s":0.912},{"k":"C 3-4","t":59,"s":0.912},{"k":"C 3-4","t":62,"s":0.91},{"k":"C 3-4","t":64,"s":0.91},{"k":"C 3-4","t":67,"s":0.853},{"k":"C 3-4","t":69,"s":0.853},{"k":"C 3-4","t":72,"s":0.849},{"k":"C 3-4","t":74,"s":0.849},{"k":"C 3-4","t":77,"s":0.829},{"k":"C 3-4","t":79,"s":0.829},{"k":"C 3-4","t":81,"s":0.829},{"k":"C 3-4","t":83,"s":0.829},{"k":"C 3-4","t":85,"s":0.829},{"k":"C 3-4","t":87,"s":0.829},{"k":"C 3-4","t":89,"s":0.829},{"k":"C 3-4","t":91,"s":0.829},{"k":"C 3-4","t":93,"s":0.829},{"k":"C 3-4","t":95,"s":0.829},{"k":"C 3-4","t":97,"s":0.829},{"k":"C 3-4","t":99,"s":0.829},{"k":"C 3-4","t":101,"s":0.829},{"k":"C 3-4","t":103,"s":0.829},{"k":"C 3-4","t":105,"s":0.829},{"k":"C 3-4","t":107,"s":0.829},{"k":"C 3-4","t":109,"s":0.829},{"k":"C 3-4","t":111,"s":0.829},
      {"k":"C 4-5","t":51,"s":0.992},{"k":"C 4-5","t":53,"s":0.982},{"k":"C 4-5","t":56,"s":0.977},{"k":"C 4-5","t":58,"s":0.977},{"k":"C 4-5","t":60,"s":0.977},{"k":"C 4-5","t":62,"s":0.975},{"k":"C 4-5","t":64,"s":0.975},{"k":"C 4-5","t":67,"s":0.913},{"k":"C 4-5","t":69,"s":0.913},{"k":"C 4-5","t":72,"s":0.91},{"k":"C 4-5","t":74,"s":0.91},{"k":"C 4-5","t":77,"s":0.89},{"k":"C 4-5","t":79,"s":0.89},{"k":"C 4-5","t":81,"s":0.89},{"k":"C 4-5","t":83,"s":0.89},{"k":"C 4-5","t":85,"s":0.89},{"k":"C 4-5","t":87,"s":0.89},{"k":"C 4-5","t":89,"s":0.89},{"k":"C 4-5","t":91,"s":0.89},{"k":"C 4-5","t":93,"s":0.89},{"k":"C 4-5","t":95,"s":0.89},{"k":"C 4-5","t":97,"s":0.89},{"k":"C 4-5","t":99,"s":0.89},{"k":"C 4-5","t":101,"s":0.89},{"k":"C 4-5","t":103,"s":0.89},{"k":"C 4-5","t":105,"s":0.89},{"k":"C 4-5","t":107,"s":0.89},{"k":"C 4-5","t":109,"s":0.89},{"k":"C 4-5","t":111,"s":0.89},
      {"k":"C 5-6","t":61,"s":1},{"k":"C 5-6","t":62.5,"s":1},{"k":"C 5-6","t":64,"s":1},{"k":"C 5-6","t":67,"s":0.935},{"k":"C 5-6","t":69,"s":0.935},{"k":"C 5-6","t":71,"s":0.932},{"k":"C 5-6","t":73,"s":0.932},{"k":"C 5-6","t":77,"s":0.912},{"k":"C 5-6","t":79,"s":0.912},{"k":"C 5-6","t":81,"s":0.912},{"k":"C 5-6","t":83,"s":0.912},{"k":"C 5-6","t":85,"s":0.912},{"k":"C 5-6","t":87,"s":0.912},{"k":"C 5-6","t":89,"s":0.912},{"k":"C 5-6","t":91,"s":0.912},{"k":"C 5-6","t":93,"s":0.912},{"k":"C 5-6","t":95,"s":0.912},{"k":"C 5-6","t":97,"s":0.912},{"k":"C 5-6","t":99,"s":0.912},{"k":"C 5-6","t":101,"s":0.912},{"k":"C 5-6","t":103,"s":0.912},{"k":"C 5-6","t":105,"s":0.912},{"k":"C 5-6","t":107,"s":0.912},{"k":"C 5-6","t":109,"s":0.912},{"k":"C 5-6","t":111,"s":0.912}
    ],
    "high": [
      {"k":"L 0-1","t":0,"s":1},{"k":"L 0-1","t":1,"s":0.967},{"k":"L 0-1","t":1.9,"s":0.931},{"k":"L 0-1","t":2.6,"s":0.885},{"k":"L 0-1","t":3.1,"s":0.831},{"k":"L 0-1","t":4.2,"s":0.795},{"k":"L 0-1","t":4.9,"s":0.749},{"k":"L 0-1","t":6,"s":0.695},{"k":"L 0-1","t":7.3,"s":0.644},{"k":"L 0-1","t":8.8,"s":0.631},{"k":"L 0-1","t":10,"s":0.604},{"k":"L 0-1","t":10.6,"s":0.567},{"k":"L 0-1","t":11.9,"s":0.531},{"k":"L 0-1","t":13.1,"s":0.495},{"k":"L 0-1","t":14.2,"s":0.467},{"k":"L 0-1","t":15.7,"s":0.449},{"k":"L 0-1","t":17.3,"s":0.404},{"k":"L 0-1","t":18.8,"s":0.395},{"k":"L 0-1","t":19.9,"s":0.367},{"k":"L 0-1","t":21.1,"s":0.34},{"k":"L 0-1","t":21.9,"s":0.313},{"k":"L 0-1","t":24.2,"s":0.304},{"k":"L 0-1","t":29.6,"s":0.285},{"k":"L 0-1","t":31.2,"s":0.273},{"k":"L 0-1","t":32.7,"s":0.258},{"k":"L 0-1","t":51.2,"s":0.232},{"k":"L 0-1","t":59,"s":0.2},{"k":"L 0-1","t":107.5,"s":0.2},
      {"k":"L 1-2","t":12,"s":1},{"k":"L 1-2","t":13.1,"s":0.949},{"k":"L 1-2","t":13.7,"s":0.922},{"k":"L 1-2","t":14.7,"s":0.895},{"k":"L 1-2","t":15,"s":0.867},{"k":"L 1-2","t":16.8,"s":0.813},{"k":"L 1-2","t":18.4,"s":0.767},{"k":"L 1-2","t":19.6,"s":0.716},{"k":"L 1-2","t":20.8,"s":0.676},{"k":"L 1-2","t":21.6,"s":0.64},{"k":"L 1-2","t":22.7,"s":0.6},{"k":"L 1-2","t":23.9,"s":0.573},{"k":"L 1-2","t":28.8,"s":0.545},{"k":"L 1-2","t":30.4,"s":0.516},{"k":"L 1-2","t":32.7,"s":0.485},{"k":"L 1-2","t":51.2,"s":0.443},{"k":"L 1-2","t":58.9,"s":0.378},{"k":"L 1-2","t":107.5,"s":0.378},
      {"k":"L 2-3","t":24,"s":1},{"k":"L 2-3","t":28.8,"s":0.95},{"k":"L 2-3","t":29.8,"s":0.905},{"k":"L 2-3","t":32.7,"s":0.853},{"k":"L 2-3","t":51.2,"s":0.771},{"k":"L 2-3","t":59.2,"s":0.66},{"k":"L 2-3","t":107.5,"s":0.66},
      {"k":"L 3-4","t":36,"s":1},{"k":"L 3-4","t":41.5,"s":1},
      {"k":"L 4-5","t":51,"s":1},{"k":"L 4-5","t":51.3,"s":0.909},{"k":"L 4-5","t":59.2,"s":0.778},{"k":"L 4-5","t":107.5,"s":0.778},
      {"k":"L 5-6","t":0,"s":1},{"k":"L 5-6","t":107.5,"s":1},
      {"k":"C 0-1","t":3.1,"s":0.831},{"k":"C 0-1","t":8,"s":0.644},{"k":"C 0-1","t":9.3,"s":0.631},{"k":"C 0-1","t":10.3,"s":0.604},{"k":"C 0-1","t":11,"s":0.567},{"k":"C 0-1","t":11.5,"s":0.567},{"k":"C 0-1","t":12.3,"s":0.531},{"k":"C 0-1","t":12.7,"s":0.531},{"k":"C 0-1","t":13.5,"s":0.495},{"k":"C 0-1","t":15,"s":0.467},{"k":"C 0-1","t":16,"s":0.449},{"k":"C 0-1","t":16.5,"s":0.449},{"k":"C 0-1","t":20.5,"s":0.367},{"k":"C 0-1","t":21.5,"s":0.34},{"k":"C 0-1","t":23,"s":0.313},{"k":"C 0-1","t":26.5,"s":0.304},{"k":"C 0-1","t":28.5,"s":0.304},{"k":"C 0-1","t":30,"s":0.285},{"k":"C 0-1","t":36.5,"s":0.258},{"k":"C 0-1","t":40.5,"s":0.258},{"k":"C 0-1","t":41.3,"s":0.258},{"k":"C 0-1","t":54,"s":0.232},{"k":"C 0-1","t":56.8,"s":0.232},{"k":"C 0-1","t":57.5,"s":0.232},{"k":"C 0-1","t":64,"s":0.2},{"k":"C 0-1","t":66,"s":0.2},{"k":"C 0-1","t":68,"s":0.2},{"k":"C 0-1","t":76,"s":0.2},{"k":"C 0-1","t":94.5,"s":0.2},{"k":"C 0-1","t":107.5,"s":0.2},
      {"k":"C 1-2","t":12.2,"s":1},{"k":"C 1-2","t":12.6,"s":1},{"k":"C 1-2","t":13.4,"s":0.949},{"k":"C 1-2","t":15.8,"s":0.867},{"k":"C 1-2","t":16.2,"s":0.867},{"k":"C 1-2","t":21.2,"s":0.676},{"k":"C 1-2","t":26,"s":0.573},{"k":"C 1-2","t":29.5,"s":0.545},{"k":"C 1-2","t":36.5,"s":0.485},{"k":"C 1-2","t":40.5,"s":0.485},{"k":"C 1-2","t":41.3,"s":0.485},{"k":"C 1-2","t":54,"s":0.443},{"k":"C 1-2","t":56.8,"s":0.443},{"k":"C 1-2","t":57.5,"s":0.443},{"k":"C 1-2","t":64,"s":0.378},{"k":"C 1-2","t":66,"s":0.378},{"k":"C 1-2","t":68,"s":0.378},{"k":"C 1-2","t":76,"s":0.378},{"k":"C 1-2","t":94.5,"s":0.378},{"k":"C 1-2","t":107.5,"s":0.378},
      {"k":"C 2-3","t":26.5,"s":1},{"k":"C 2-3","t":28.5,"s":1},{"k":"C 2-3","t":31,"s":0.905},{"k":"C 2-3","t":36.5,"s":0.853},{"k":"C 2-3","t":40.5,"s":0.853},{"k":"C 2-3","t":41.3,"s":0.853},{"k":"C 2-3","t":51,"s":0.853},{"k":"C 2-3","t":54,"s":0.771},{"k":"C 2-3","t":56.8,"s":0.771},{"k":"C 2-3","t":57.5,"s":0.771},{"k":"C 2-3","t":64,"s":0.66},{"k":"C 2-3","t":66,"s":0.66},{"k":"C 2-3","t":68,"s":0.66},{"k":"C 2-3","t":76,"s":0.66},{"k":"C 2-3","t":94.5,"s":0.66},{"k":"C 2-3","t":107.5,"s":0.66},
      {"k":"C 3-4","t":36.5,"s":1},{"k":"C 3-4","t":40.5,"s":1},{"k":"C 3-4","t":41,"s":1},{"k":"C 3-4","t":41.5,"s":1},
      {"k":"C 4-5","t":51,"s":1},{"k":"C 4-5","t":54,"s":0.909},{"k":"C 4-5","t":56.8,"s":0.909},{"k":"C 4-5","t":57.5,"s":0.909},{"k":"C 4-5","t":64,"s":0.778},{"k":"C 4-5","t":66,"s":0.778},{"k":"C 4-5","t":68,"s":0.778},{"k":"C 4-5","t":76,"s":0.778},{"k":"C 4-5","t":94.5,"s":0.778},{"k":"C 4-5","t":107.5,"s":0.778},
      {"k":"C 5-6","t":60.5,"s":1},{"k":"C 5-6","t":64,"s":1},{"k":"C 5-6","t":66,"s":1},{"k":"C 5-6","t":68,"s":1},{"k":"C 5-6","t":76,"s":1},{"k":"C 5-6","t":94.5,"s":1},{"k":"C 5-6","t":107.5,"s":1}
    ]
  },
  "columns": 2,
  "bounds": "flush",
  "spacing": {"row": 54, "column": 95},
  "resolve": {"scale": {"color": "independent", "shape": "independent", "x": "independent", "y": "independent"}, "legend": {"color": "independent", "shape": "independent"}},
  "concat": [
    {
      "width": 288, "height": 205,
      "title": "PPS",
      "data": {"name": "pps"},
      "encoding": {
        "x": {"field": "t", "type": "quantitative", "scale": {"domain": [-6.7, 126.7], "nice": false, "zero": false}, "axis": {"title": "months", "values": [0, 20, 40, 60, 80, 100, 120], "labelExpr": "datum.value == 0 ? '.00' : format(datum.value, '.2f')"}},
        "y": {"field": "s", "type": "quantitative", "scale": {"domain": [-0.05, 1.07], "nice": false, "zero": false}, "axis": {"title": "A", "values": [0, 0.2, 0.4, 0.6, 0.8, 1], "format": ".1f", "titleAngle": 0, "titleX": -23, "titleY": 2.5, "titleAlign": "left", "titleBaseline": "alphabetic", "titleFontSize": 13, "titleFontWeight": "normal", "titleColor": "#111111"}},
        "color": {"field": "k", "type": "nominal", "scale": {"domain": ["L 0-1", "L 1-2", "L 2-3", "L 3-4", "L 4-5", "L 5-6", "C 0-1", "C 1-2", "C 2-3", "C 3-4", "C 4-5", "C 5-6"], "range": ["#4a8bd6", "#d61c2e", "#238b32", "#f26b24", "#e2cd14", "#20ae9e", "#4a8bd6", "#d61c2e", "#238b32", "#f26b24", "#e2cd14", "#20ae9e"]}, "legend": {"title": "Time (year)", "labelExpr": "substring(datum.label, 2)", "symbolSize": 50, "clipHeight": 8}}
      },
      "layer": [
        {"transform": [{"filter": "substring(datum.k, 0, 1) == 'L'"}], "mark": {"type": "line"}},
        {"transform": [{"filter": "substring(datum.k, 0, 1) == 'C'"}], "mark": {"type": "point"},
         "encoding": {"shape": {"field": "k", "type": "nominal", "scale": {"domain": ["L 0-1", "L 1-2", "L 2-3", "L 3-4", "L 4-5", "L 5-6", "C 0-1", "C 1-2", "C 2-3", "C 3-4", "C 4-5", "C 5-6"], "range": ["M-1,0.45L-0.35,0.45L-0.35,-0.45L0.7,-0.45L0.7,0.15", "M-1,0.45L-0.35,0.45L-0.35,-0.45L0.7,-0.45L0.7,0.15", "M-1,0.45L-0.35,0.45L-0.35,-0.45L0.7,-0.45L0.7,0.15", "M-1,0.45L-0.35,0.45L-0.35,-0.45L0.7,-0.45L0.7,0.15", "M-1,0.45L-0.35,0.45L-0.35,-0.45L0.7,-0.45L0.7,0.15", "M-1,0.45L-0.35,0.45L-0.35,-0.45L0.7,-0.45L0.7,0.15", "M-1,0L1,0M0,-0.8L0,0.8", "M-1,0L1,0M0,-0.8L0,0.8", "M-1,0L1,0M0,-0.8L0,0.8", "M-1,0L1,0M0,-0.8L0,0.8", "M-1,0L1,0M0,-0.8L0,0.8", "M-1,0L1,0M0,-0.8L0,0.8"]}, "legend": {"title": "Time (year)", "labelExpr": "substring(datum.label, 2)", "symbolSize": 50, "clipHeight": 8}}}}
      ]
    },
    {
      "width": 288, "height": 205,
      "title": "Low-risk",
      "data": {"name": "low"},
      "encoding": {
        "x": {"field": "t", "type": "quantitative", "scale": {"domain": [-6.7, 126.7], "nice": false, "zero": false}, "axis": {"title": "months", "values": [0, 20, 40, 60, 80, 100, 120], "labelExpr": "datum.value == 0 ? '.00' : format(datum.value, '.2f')"}},
        "y": {"field": "s", "type": "quantitative", "scale": {"domain": [-0.05, 1.07], "nice": false, "zero": false}, "axis": {"title": "B", "values": [0, 0.2, 0.4, 0.6, 0.8, 1], "format": ".1f", "titleAngle": 0, "titleX": -23, "titleY": 2.5, "titleAlign": "left", "titleBaseline": "alphabetic", "titleFontSize": 13, "titleFontWeight": "normal", "titleColor": "#111111"}},
        "color": {"field": "k", "type": "nominal", "scale": {"domain": ["L 0-1", "L 1-2", "L 2-3", "L 3-4", "L 4-5", "L 5-6", "C 0-1", "C 1-2", "C 2-3", "C 3-4", "C 4-5", "C 5-6"], "range": ["#4a8bd6", "#d61c2e", "#238b32", "#f26b24", "#e2cd14", "#20ae9e", "#4a8bd6", "#d61c2e", "#238b32", "#f26b24", "#e2cd14", "#20ae9e"]}, "legend": {"title": "Time (year)", "labelExpr": "substring(datum.label, 2)", "symbolSize": 50, "clipHeight": 8}}
      },
      "layer": [
        {"transform": [{"filter": "substring(datum.k, 0, 1) == 'L'"}], "mark": {"type": "line"}},
        {"transform": [{"filter": "substring(datum.k, 0, 1) == 'C'"}], "mark": {"type": "point"},
         "encoding": {"shape": {"field": "k", "type": "nominal", "scale": {"domain": ["L 0-1", "L 1-2", "L 2-3", "L 3-4", "L 4-5", "L 5-6", "C 0-1", "C 1-2", "C 2-3", "C 3-4", "C 4-5", "C 5-6"], "range": ["M-1,0.45L-0.35,0.45L-0.35,-0.45L0.7,-0.45L0.7,0.15", "M-1,0.45L-0.35,0.45L-0.35,-0.45L0.7,-0.45L0.7,0.15", "M-1,0.45L-0.35,0.45L-0.35,-0.45L0.7,-0.45L0.7,0.15", "M-1,0.45L-0.35,0.45L-0.35,-0.45L0.7,-0.45L0.7,0.15", "M-1,0.45L-0.35,0.45L-0.35,-0.45L0.7,-0.45L0.7,0.15", "M-1,0.45L-0.35,0.45L-0.35,-0.45L0.7,-0.45L0.7,0.15", "M-1,0L1,0M0,-0.8L0,0.8", "M-1,0L1,0M0,-0.8L0,0.8", "M-1,0L1,0M0,-0.8L0,0.8", "M-1,0L1,0M0,-0.8L0,0.8", "M-1,0L1,0M0,-0.8L0,0.8", "M-1,0L1,0M0,-0.8L0,0.8"]}, "legend": {"title": "Time (year)", "labelExpr": "substring(datum.label, 2)", "symbolSize": 50, "clipHeight": 8}}}}
      ]
    },
    {
      "width": 288, "height": 205,
      "title": "Moderate-risk",
      "data": {"name": "moderate"},
      "encoding": {
        "x": {"field": "t", "type": "quantitative", "scale": {"domain": [-6.7, 126.7], "nice": false, "zero": false}, "axis": {"title": "months", "values": [0, 20, 40, 60, 80, 100, 120], "labelExpr": "datum.value == 0 ? '.00' : format(datum.value, '.2f')"}},
        "y": {"field": "s", "type": "quantitative", "scale": {"domain": [-0.05, 1.07], "nice": false, "zero": false}, "axis": {"title": "C", "values": [0, 0.2, 0.4, 0.6, 0.8, 1], "format": ".1f", "titleAngle": 0, "titleX": -23, "titleY": 2.5, "titleAlign": "left", "titleBaseline": "alphabetic", "titleFontSize": 13, "titleFontWeight": "normal", "titleColor": "#111111"}},
        "color": {"field": "k", "type": "nominal", "scale": {"domain": ["L 0-1", "L 1-2", "L 2-3", "L 3-4", "L 4-5", "L 5-6", "C 0-1", "C 1-2", "C 2-3", "C 3-4", "C 4-5", "C 5-6"], "range": ["#4a8bd6", "#d61c2e", "#238b32", "#f26b24", "#e2cd14", "#20ae9e", "#4a8bd6", "#d61c2e", "#238b32", "#f26b24", "#e2cd14", "#20ae9e"]}, "legend": {"title": "Time (year)", "labelExpr": "substring(datum.label, 2)", "symbolSize": 50, "clipHeight": 8}}
      },
      "layer": [
        {"transform": [{"filter": "substring(datum.k, 0, 1) == 'L'"}], "mark": {"type": "line"}},
        {"transform": [{"filter": "substring(datum.k, 0, 1) == 'C'"}], "mark": {"type": "point"},
         "encoding": {"shape": {"field": "k", "type": "nominal", "scale": {"domain": ["L 0-1", "L 1-2", "L 2-3", "L 3-4", "L 4-5", "L 5-6", "C 0-1", "C 1-2", "C 2-3", "C 3-4", "C 4-5", "C 5-6"], "range": ["M-1,0.45L-0.35,0.45L-0.35,-0.45L0.7,-0.45L0.7,0.15", "M-1,0.45L-0.35,0.45L-0.35,-0.45L0.7,-0.45L0.7,0.15", "M-1,0.45L-0.35,0.45L-0.35,-0.45L0.7,-0.45L0.7,0.15", "M-1,0.45L-0.35,0.45L-0.35,-0.45L0.7,-0.45L0.7,0.15", "M-1,0.45L-0.35,0.45L-0.35,-0.45L0.7,-0.45L0.7,0.15", "M-1,0.45L-0.35,0.45L-0.35,-0.45L0.7,-0.45L0.7,0.15", "M-1,0L1,0M0,-0.8L0,0.8", "M-1,0L1,0M0,-0.8L0,0.8", "M-1,0L1,0M0,-0.8L0,0.8", "M-1,0L1,0M0,-0.8L0,0.8", "M-1,0L1,0M0,-0.8L0,0.8", "M-1,0L1,0M0,-0.8L0,0.8"]}, "legend": {"title": "Time (year)", "labelExpr": "substring(datum.label, 2)", "symbolSize": 50, "clipHeight": 8}}}}
      ]
    },
    {
      "width": 288, "height": 205,
      "title": "High-risk",
      "data": {"name": "high"},
      "encoding": {
        "x": {"field": "t", "type": "quantitative", "scale": {"domain": [-6.7, 126.7], "nice": false, "zero": false}, "axis": {"title": "months", "values": [0, 20, 40, 60, 80, 100, 120], "labelExpr": "datum.value == 0 ? '.00' : format(datum.value, '.2f')"}},
        "y": {"field": "s", "type": "quantitative", "scale": {"domain": [-0.05, 1.07], "nice": false, "zero": false}, "axis": {"title": "D", "values": [0, 0.2, 0.4, 0.6, 0.8, 1], "format": ".1f", "titleAngle": 0, "titleX": -23, "titleY": 2.5, "titleAlign": "left", "titleBaseline": "alphabetic", "titleFontSize": 13, "titleFontWeight": "normal", "titleColor": "#111111"}},
        "color": {"field": "k", "type": "nominal", "scale": {"domain": ["L 0-1", "L 1-2", "L 2-3", "L 3-4", "L 4-5", "L 5-6", "C 0-1", "C 1-2", "C 2-3", "C 3-4", "C 4-5", "C 5-6"], "range": ["#4a8bd6", "#d61c2e", "#238b32", "#f26b24", "#e2cd14", "#20ae9e", "#4a8bd6", "#d61c2e", "#238b32", "#f26b24", "#e2cd14", "#20ae9e"]}, "legend": {"title": "Time (year)", "labelExpr": "substring(datum.label, 2)", "symbolSize": 50, "clipHeight": 8}}
      },
      "layer": [
        {"transform": [{"filter": "substring(datum.k, 0, 1) == 'L'"}], "mark": {"type": "line"}},
        {"transform": [{"filter": "substring(datum.k, 0, 1) == 'C'"}], "mark": {"type": "point"},
         "encoding": {"shape": {"field": "k", "type": "nominal", "scale": {"domain": ["L 0-1", "L 1-2", "L 2-3", "L 3-4", "L 4-5", "L 5-6", "C 0-1", "C 1-2", "C 2-3", "C 3-4", "C 4-5", "C 5-6"], "range": ["M-1,0.45L-0.35,0.45L-0.35,-0.45L0.7,-0.45L0.7,0.15", "M-1,0.45L-0.35,0.45L-0.35,-0.45L0.7,-0.45L0.7,0.15", "M-1,0.45L-0.35,0.45L-0.35,-0.45L0.7,-0.45L0.7,0.15", "M-1,0.45L-0.35,0.45L-0.35,-0.45L0.7,-0.45L0.7,0.15", "M-1,0.45L-0.35,0.45L-0.35,-0.45L0.7,-0.45L0.7,0.15", "M-1,0.45L-0.35,0.45L-0.35,-0.45L0.7,-0.45L0.7,0.15", "M-1,0L1,0M0,-0.8L0,0.8", "M-1,0L1,0M0,-0.8L0,0.8", "M-1,0L1,0M0,-0.8L0,0.8", "M-1,0L1,0M0,-0.8L0,0.8", "M-1,0L1,0M0,-0.8L0,0.8", "M-1,0L1,0M0,-0.8L0,0.8"]}, "legend": {"title": "Time (year)", "labelExpr": "substring(datum.label, 2)", "symbolSize": 50, "clipHeight": 8}}}}
      ]
    }
  ]
}
